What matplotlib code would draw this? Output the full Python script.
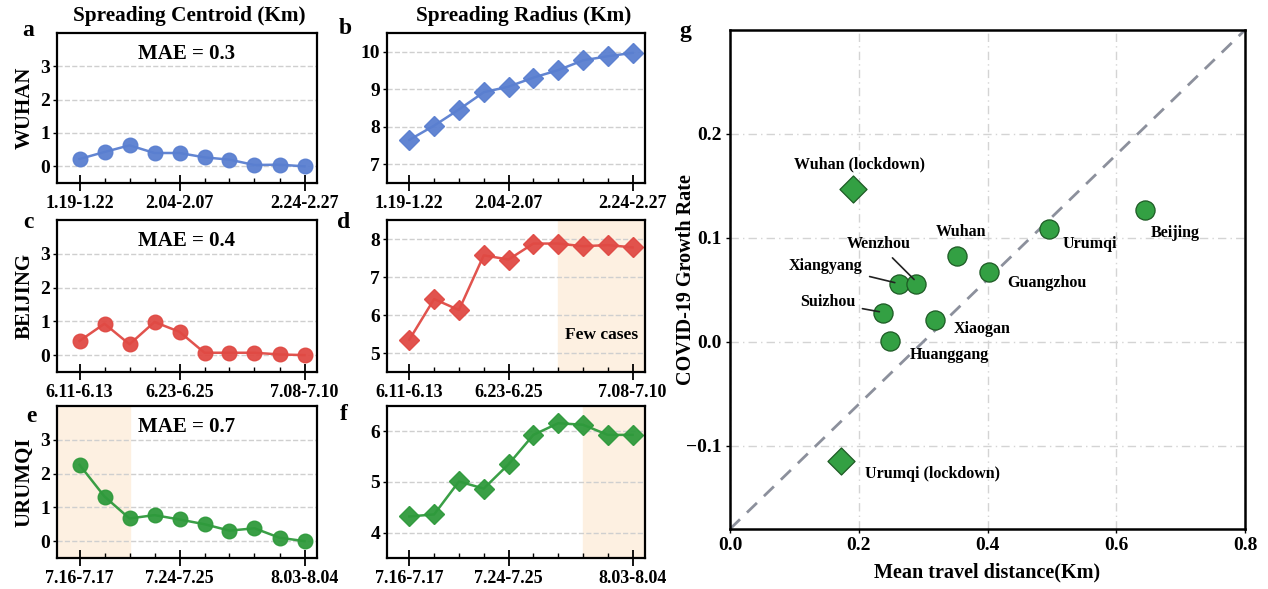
import numpy as np
import matplotlib.pyplot as plt
from matplotlib.ticker import FixedLocator

plt.rcParams['font.family'] = ['Liberation Serif', 'DejaVu Serif']
plt.rcParams['font.weight'] = 'bold'
plt.rcParams['axes.labelweight'] = 'bold'

# ---- data ----
steps = np.arange(10)

wuhan_centroid = [0.22, 0.43, 0.63, 0.40, 0.40, 0.27, 0.20, 0.04, 0.05, 0.0]
wuhan_radius = [7.65, 8.03, 8.46, 8.92, 9.07, 9.31, 9.51, 9.77, 9.88, 9.97]
beijing_centroid = [0.42, 0.93, 0.32, 0.98, 0.69, 0.07, 0.07, 0.07, 0.02, 0.0]
beijing_radius = [5.35, 6.42, 6.13, 7.57, 7.46, 7.88, 7.88, 7.81, 7.84, 7.78]
urumqi_centroid = [2.26, 1.32, 0.67, 0.77, 0.64, 0.50, 0.31, 0.38, 0.10, 0.0]
urumqi_radius = [4.32, 4.36, 5.01, 4.87, 5.35, 5.93, 6.16, 6.13, 5.93, 5.93]

wuhan_dates = ['1.19-1.22', '2.04-2.07', '2.24-2.27']
beijing_dates = ['6.11-6.13', '6.23-6.25', '7.08-7.10']
urumqi_dates = ['7.16-7.17', '7.24-7.25', '8.03-8.04']

mae = ['MAE = 0.3', 'MAE = 0.4', 'MAE = 0.7']
cities = ['WUHAN', 'BEIJING', 'URUMQI']

# panel g
g_names = ['Wuhan (lockdown)', 'Beijing', 'Urumqi', 'Wuhan', 'Guangzhou', 'Xiangyang',
           'Wenzhou', 'Suizhou', 'Xiaogan', 'Huanggang', 'Urumqi (lockdown)']
g_dist = [0.191, 0.644, 0.495, 0.352, 0.403, 0.263, 0.289, 0.238, 0.318, 0.248, 0.172]
g_rate = [0.147, 0.127, 0.109, 0.083, 0.0675, 0.056, 0.056, 0.028, 0.021, 0.001, -0.115]
g_lockdown = [True, False, False, False, False, False, False, False, False, False, True]

BLUE = '#5a7fd0'
RED = '#e04a44'
GREEN = '#2f9a3c'
SHADE = '#fdf0e1'

W, H = 1268, 589
fig = plt.figure(figsize=(W / 100, H / 100), dpi=100)


def add_px_axes(l, t, r, b):
    return fig.add_axes([l / W, 1 - b / H, (r - l) / W, (b - t) / H])


def style_line_axes(ax, labels, ylim, yticks):
    ax.set_xlim(-0.9, 9.5)
    ax.set_ylim(*ylim)
    ax.set_yticks(yticks)
    ax.xaxis.set_major_locator(FixedLocator([0, 4, 9]))
    ax.xaxis.set_minor_locator(FixedLocator([1, 2, 3, 5, 6, 7, 8]))
    ax.set_xticklabels(labels)
    ax.tick_params(axis='x', which='major', direction='inout', length=11, width=1.3,
                   labelsize=13, pad=3)
    ax.tick_params(axis='x', which='minor', direction='in', length=3.5, width=1.0)
    ax.tick_params(axis='y', direction='out', length=3, width=1.0, labelsize=14, pad=2)
    ax.grid(axis='y', linestyle='--', color='#cfcfcf', linewidth=1.0)
    ax.set_axisbelow(True)
    for s in ax.spines.values():
        s.set_linewidth(1.6)


rows = [(33, 183), (220, 372), (406, 558)]
centroids = [wuhan_centroid, beijing_centroid, urumqi_centroid]
radii = [wuhan_radius, beijing_radius, urumqi_radius]
dates = [wuhan_dates, beijing_dates, urumqi_dates]
colors = [BLUE, RED, GREEN]
radius_lims = [((6.5, 10.5), [7, 8, 9, 10]), ((4.5, 8.5), [5, 6, 7, 8]), ((3.5, 6.5), [4, 5, 6])]
letters_left = [('a', 28, 30), ('c', 28, 223), ('e', 31, 417)]
letters_right = [('b', 345, 29), ('d', 344, 223), ('f', 344, 415)]

for i, (t, b) in enumerate(rows):
    ax1 = add_px_axes(57, t, 317, b)
    ax2 = add_px_axes(387, t, 645, b)

    style_line_axes(ax1, dates[i], (-0.5, 4.0), [0, 1, 2, 3])
    ax1.plot(steps, centroids[i], '-o', color=colors[i], markersize=10.5, linewidth=1.8,
             alpha=0.95)
    ax1.text(0.5, 0.86, mae[i], transform=ax1.transAxes, ha='center', va='center',
             fontsize=15, fontweight='bold')
    ax1.set_ylabel(cities[i], fontsize=15, fontweight='bold', labelpad=4)

    style_line_axes(ax2, dates[i], *radius_lims[i])
    ax2.plot(steps, radii[i], '-D', color=colors[i], markersize=10, linewidth=1.8,
             alpha=0.95)

    if i == 1:
        ax2.axvspan(6, 9.5, color=SHADE, zorder=0)
        ax2.text(7.75, 5.47, 'Few cases', ha='center', va='center', fontsize=12.5,
                 fontweight='bold')
    if i == 2:
        ax1.axvspan(-0.9, 2, color=SHADE, zorder=0)
        ax2.axvspan(7, 9.5, color=SHADE, zorder=0)

    for letter, lx, ly in (letters_left[i], letters_right[i]):
        fig.text(lx / W, 1 - ly / H, letter, fontsize=17, fontweight='bold',
                 ha='center', va='center')

fig.text(189 / W, 1 - 16 / H, 'Spreading Centroid (Km)', fontsize=15.3, fontweight='bold',
         ha='center', va='center')
fig.text(524 / W, 1 - 16 / H, 'Spreading Radius (Km)', fontsize=15.3, fontweight='bold',
         ha='center', va='center')

# ---- panel g ----
axg = add_px_axes(730, 30, 1245, 529)
axg.set_xlim(0, 0.8)
axg.set_ylim(-0.18, 0.3)
axg.set_xticks([0.0, 0.2, 0.4, 0.6, 0.8])
axg.set_yticks([-0.1, 0.0, 0.1, 0.2])
axg.grid(True, linestyle=(0, (6, 3, 1, 3)), color='#d4d4d4', linewidth=1.0)
axg.set_axisbelow(True)
axg.plot([0, 1], [0, 1], transform=axg.transAxes, linestyle='--', color='#8c909c',
         linewidth=2.0, dashes=(5, 3.5), zorder=1)

for x, y, lock in zip(g_dist, g_rate, g_lockdown):
    axg.scatter(x, y, s=190, marker='D' if lock else 'o', color='#33a043',
                edgecolor='#1d5a24', linewidth=0.9, zorder=3)

label_pos = {
    'Wuhan (lockdown)': (0.201, 0.171),
    'Beijing': (0.691, 0.105),
    'Urumqi': (0.559, 0.094),
    'Wuhan': (0.359, 0.106),
    'Guangzhou': (0.493, 0.057),
    'Xiaogan': (0.391, 0.0125),
    'Huanggang': (0.340, -0.0125),
    'Urumqi (lockdown)': (0.314, -0.127),
}
for name, (lx, ly) in label_pos.items():
    axg.text(lx, ly, name, ha='center', va='center', fontsize=11.5, fontweight='bold')

# labels connected with short leader lines
arrow_labels = {
    'Xiangyang': ((0.149, 0.073), (0.256, 0.057)),
    'Wenzhou': ((0.231, 0.094), (0.286, 0.060)),
    'Suizhou': ((0.152, 0.038), (0.232, 0.029)),
}
for name, (lpos, ppos) in arrow_labels.items():
    axg.annotate(name, xy=ppos, xytext=lpos, ha='center', va='center', fontsize=11.5,
                 fontweight='bold',
                 arrowprops=dict(arrowstyle='-', color='#222222', linewidth=1.2,
                                 shrinkA=3, shrinkB=0))

axg.tick_params(labelsize=14, length=3, width=1.0, pad=3)
axg.set_xlabel('Mean travel distance(Km)', fontsize=14.5, fontweight='bold', labelpad=6)
axg.set_ylabel('COVID-19 Growth Rate', fontsize=14.5, fontweight='bold')
axg.yaxis.set_label_coords(-0.066, 0.5)
for s in axg.spines.values():
    s.set_linewidth(1.8)
fig.text(685 / W, 1 - 32 / H, 'g', fontsize=17, fontweight='bold', ha='center',
         va='center')

fig.savefig('out.png', dpi=100)
